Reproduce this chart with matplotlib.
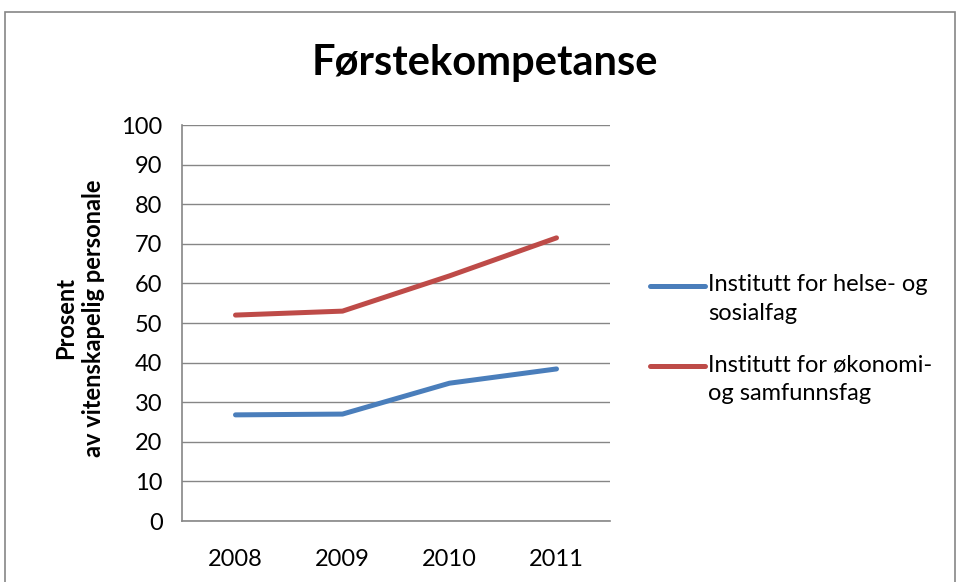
import matplotlib.pyplot as plt
from matplotlib.lines import Line2D
from matplotlib.patches import Rectangle

years = ['2008', '2009', '2010', '2011']
helse = [26.8, 27.0, 34.8, 38.4]
okonomi = [52.0, 53.0, 61.9, 71.5]
labels = ['Institutt for helse- og\nsosialfag', 'Institutt for økonomi-\nog samfunnsfag']
colors = ['#4A7EBB', '#BE4B48']
yticks = list(range(0, 101, 10))

plt.rcParams['font.family'] = ['Lato', 'DejaVu Sans']

fig = plt.figure(figsize=(9.58, 5.82), dpi=100)
fig.patches.append(Rectangle((5 / 958, -0.01), 950 / 958, 1 - 12 / 582 + 0.01,
                             transform=fig.transFigure, fill=False,
                             edgecolor='#868686', linewidth=1.2))

ax = fig.add_axes([182 / 958, 61 / 582, 428 / 958, 396 / 582])

x = range(len(years))
for vals, c in zip([helse, okonomi], colors):
    ax.plot(x, vals, color=c, lw=3.6, solid_capstyle='round')

ax.set_xlim(-0.5, 3.5)
ax.set_ylim(0, 100)
ax.set_xticks(list(x))
ax.set_xticklabels(years)
ax.set_yticks(yticks)
ax.tick_params(length=0, labelsize=17, pad=14)
ax.tick_params(axis='x', pad=20)
ax.grid(axis='y', color='#868686', lw=1)
ax.set_axisbelow(True)
for s in ['top', 'right']:
    ax.spines[s].set_visible(False)
for s in ['left', 'bottom']:
    ax.spines[s].set_color('#868686')
    ax.spines[s].set_linewidth(1.2)

ax.set_ylabel('Prosent\nav vitenskapelig personale', fontsize=17,
              fontweight='bold', linespacing=1.25)
ax.yaxis.set_label_coords(-0.18, 0.513)

fig.text(485 / 958, 1 - 63 / 582, 'Førstekompetanse', ha='center', va='center',
         fontsize=30, fontweight='bold')

# legend, drawn by hand so the line sits next to the first text line
for i, (lab, c) in enumerate(zip(labels, colors)):
    y = 1 - (286 + i * 80) / 582
    fig.add_artist(Line2D([650 / 958, 705 / 958], [y, y], color=c, lw=3.6,
                          solid_capstyle='round', transform=fig.transFigure))
    fig.text(708 / 958, y + 12 / 582, lab, ha='left', va='top', fontsize=17,
             linespacing=1.5)

fig.savefig('out.png', dpi=100)
